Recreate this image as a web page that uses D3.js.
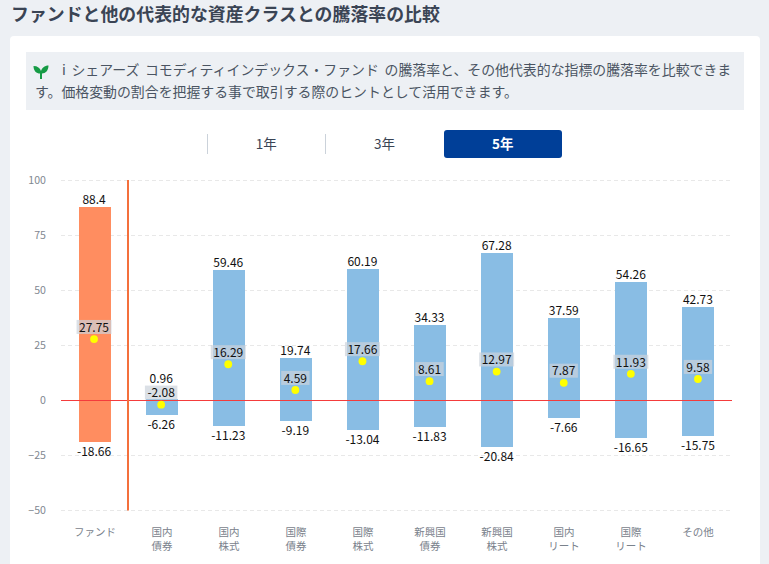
<!DOCTYPE html>
<html lang="ja">
<head>
<meta charset="utf-8">
<script src="https://cdn.jsdelivr.net/npm/d3@7/dist/d3.min.js"></script>
<style>
html,body{margin:0;padding:0;background:#edf0f4;overflow:hidden}
body{width:769px;height:564px;position:relative;font-family:"Noto Sans CJK JP","Noto Sans",sans-serif}
svg{position:absolute;left:0;top:0}
text{font-family:"Noto Sans CJK JP","Noto Sans",sans-serif;white-space:pre}
</style>
</head>
<body>
<svg id="c" width="769" height="564"></svg>
<script>
const categories = [["ファンド"],["国内","債券"],["国内","株式"],["国際","債券"],["国際","株式"],["新興国","債券"],["新興国","株式"],["国内","リート"],["国際","リート"],["その他"]];
const highs = [88.4,0.96,59.46,19.74,60.19,34.33,67.28,37.59,54.26,42.73];
const lows = [-18.66,-6.26,-11.23,-9.19,-13.04,-11.83,-20.84,-7.66,-16.65,-15.75];
const averages = [27.75,-2.08,16.29,4.59,17.66,8.61,12.97,7.87,11.93,9.58];
const yTicks = [100,75,50,25,0,-25,-50];
const periods = ["1年","3年","5年"];
const titleText = "ファンドと他の代表的な資産クラスとの騰落率の比較";
const introLines = ["i シェアーズ コモディティインデックス・ファンド の騰落率と、その他代表的な指標の騰落率を比較できま","す。価格変動の割合を把握する事で取引する際のヒントとして活用できます。"];

const svg = d3.select("#c");
const ink = "#3a4454";
svg.append("text").attr("x",11).attr("y",21).attr("font-size",17.9).attr("font-weight",700).attr("fill",ink).text(titleText);
svg.append("rect").attr("x",10).attr("y",36).attr("width",750).attr("height",540).attr("rx",4).attr("fill","#fff");
svg.append("rect").attr("x",26).attr("y",52).attr("width",718).attr("height",58).attr("fill","#edf0f4");
const sprout = svg.append("g").attr("transform","translate(41,71)").attr("fill","#169b45");
sprout.append("path").attr("d","M-1 8 L-1 2.5 C-4.5 2.5 -7.5 0 -7.5 -5 C-3.5 -5 -0.8 -3 0 0 C0.8 -3 3.5 -5.5 7.5 -5.5 C7.5 -0.5 4.5 2.5 1 2.5 L1 8 Z");
svg.append("text").attr("x",62).attr("y",75).attr("font-size",13.9).attr("word-spacing",2.5).attr("fill","#4a5462").text(introLines[0]);
svg.append("text").attr("x",35).attr("y",97).attr("font-size",13.9).attr("fill","#4a5462").text(introLines[1]);

// period tabs
const tabX = d3.scaleBand().domain(periods).range([207,562]);
[207,325].forEach(x=>svg.append("line").attr("x1",x+.5).attr("x2",x+.5).attr("y1",134).attr("y2",154).attr("stroke","#cbd2da"));
svg.append("rect").attr("x",444).attr("y",130).attr("width",118).attr("height",28).attr("rx",3).attr("fill","#003f98");
periods.forEach((p,i)=>svg.append("text").attr("x",tabX(p)+tabX.bandwidth()/2).attr("y",149).attr("text-anchor","middle")
  .attr("font-size",13.5).attr("font-weight",i==2?700:400).attr("fill",i==2?"#fff":ink).text(p));

const y = d3.scaleLinear().domain([-50,100]).range([510.5,180.5]);
const yBar = d3.scaleLinear().domain([-50,100]).rangeRound([511,181]);
const idx = categories.map((d,i)=>i);
const xBar = d3.scaleBand().domain(idx).range([61.5,731.5]);   // bars and category labels
const xMark = d3.scaleBand().domain(idx).range([60.5,731.5]);  // markers and value labels
const bw = 32;
const fs = 12;

const yAxis = d3.axisLeft(y).tickValues(yTicks).tickSize(0).tickPadding(15).tickFormat(d3.format("d"));
const ya = svg.append("g").attr("transform","translate(61,-0.5)").call(yAxis);
ya.select(".domain").remove();
ya.selectAll("text").attr("font-size",10.6).attr("fill","#7f8790");
svg.append("g").selectAll("line").data(yTicks.filter(d=>d!==0)).join("line")
  .attr("x1",61).attr("x2",732).attr("y1",d=>y(d)).attr("y2",d=>y(d))
  .attr("stroke","#e8e8e8").attr("stroke-dasharray","4 3");

const barCx = i=>xBar(i)+xBar.bandwidth()/2;
svg.append("g").selectAll("rect").data(idx).join("rect")
  .attr("x",i=>barCx(i)-bw/2).attr("width",bw)
  .attr("y",i=>yBar(highs[i])).attr("height",i=>yBar(lows[i])-yBar(highs[i]))
  .attr("fill",i=>i===0?"#ff8d60":"#89bde4");

svg.append("line").attr("x1",61).attr("x2",732).attr("y1",y(0)).attr("y2",y(0)).attr("stroke","#f43c3c").attr("stroke-width",1);
svg.append("line").attr("x1",xBar(1)-.5).attr("x2",xBar(1)-.5).attr("y1",y(100)-.5).attr("y2",y(-50)).attr("stroke","#f4703c").attr("stroke-width",2);

const cx = i=>xMark(i)+xMark.bandwidth()/2;
const lab = i=>y(averages[i])-19.5;
// the high label sits above the average label when they would collide
const highY = i=>{const b=yBar(highs[i])-3; return b>lab(i)-1 ? lab(i)-2.5 : b;};
svg.append("g").selectAll("text").data(idx).join("text").attr("x",cx).attr("y",highY)
  .attr("text-anchor","middle").attr("font-size",fs).attr("fill","#111").text(i=>highs[i]);
svg.append("g").selectAll("text").data(idx).join("text").attr("x",cx).attr("y",i=>yBar(lows[i])+14)
  .attr("text-anchor","middle").attr("font-size",fs).attr("fill","#111").text(i=>lows[i]);

const mid = svg.append("g").selectAll("g").data(idx).join("g");
const bg = mid.append("rect").attr("y",lab).attr("height",14).attr("fill","rgba(204,211,220,.7)");
mid.append("circle").attr("cx",cx).attr("cy",i=>y(averages[i])-.4).attr("r",3.9).attr("fill","#ffff00");
const mt = mid.append("text").attr("x",cx).attr("y",i=>lab(i)+11.8).attr("text-anchor","middle")
  .attr("font-size",fs).attr("fill","#111").text(i=>averages[i]);
mt.each(function(i){
  const w=this.getComputedTextLength()+5;
  bg.filter(j=>j===i).attr("x",cx(i)-w/2).attr("width",w);
});

const cat = svg.append("g").selectAll("text").data(idx).join("text").attr("text-anchor","middle").attr("font-size",10.5).attr("fill","#7a828c");
cat.each(function(i){
  d3.select(this).selectAll("tspan").data(categories[i]).join("tspan").attr("x",barCx(i)).attr("y",(d,j)=>536+j*14).text(d=>d);
});
</script>
</body>
</html>
